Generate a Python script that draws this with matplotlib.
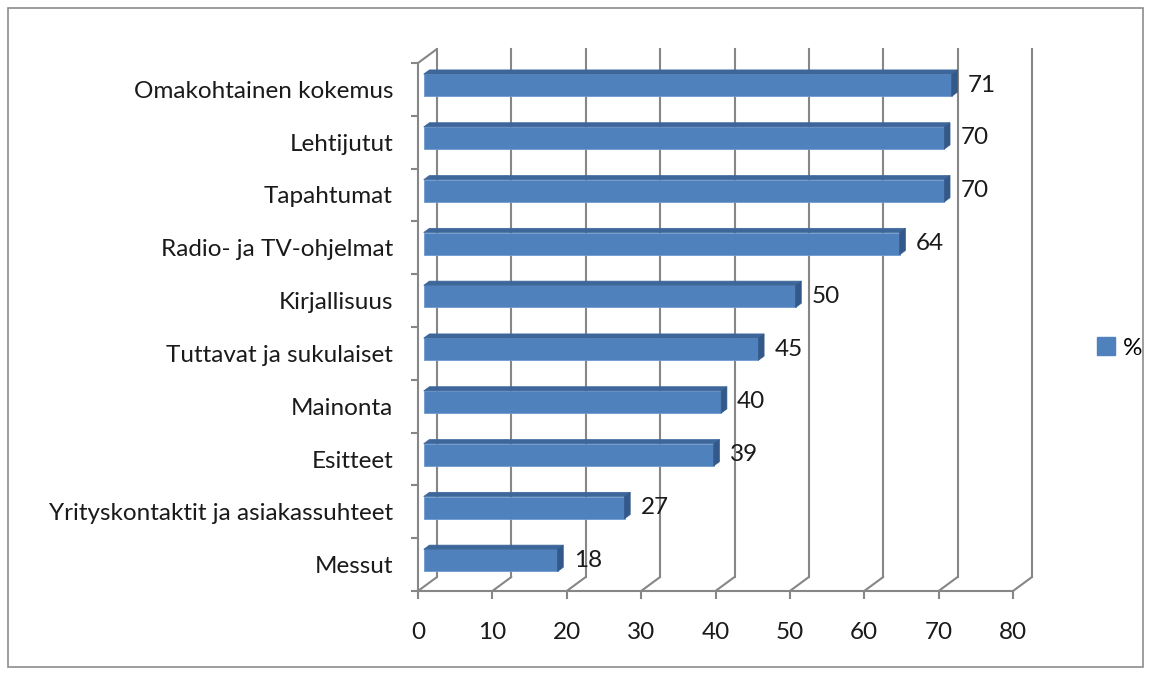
import matplotlib
matplotlib.use('Agg')
import matplotlib.pyplot as plt
from matplotlib.patches import Polygon, Rectangle, Patch, ConnectionPatch
from matplotlib.transforms import ScaledTranslation, IdentityTransform

categories = ["Omakohtainen kokemus", "Lehtijutut", "Tapahtumat",
              "Radio- ja TV-ohjelmat", "Kirjallisuus", "Tuttavat ja sukulaiset",
              "Mainonta", "Esitteet", "Yrityskontaktit ja asiakassuhteet", "Messut"]
values = [71, 70, 70, 64, 50, 45, 40, 39, 27, 18]
xticks = [0, 10, 20, 30, 40, 50, 60, 70, 80]
series_name = "%"

FONT = "Lato"
FS = 17.5
GRID = "#868686"
FRONT = "#4F81BD"
TOP = "#3D679A"
SIDE = "#33598A"
TXT = "#1a1a1a"

W, H = 1152, 675
fig = plt.figure(figsize=(W / 100, H / 100), dpi=100)
fig.patch.set_facecolor("white")
ax = fig.add_axes([418 / W, (H - 591) / H, 595 / W, 528 / H])
n = len(categories)
ax.set_xlim(0, 80)
ax.set_ylim(0, n)
ax.patch.set_visible(False)

DX, DY = 0.19, 0.14  # depth offset in inches


def depth(d):
    return ax.transData + ScaledTranslation(d * DX, d * DY, fig.dpi_scale_trans)


# spines / ticks
for s in ["top", "right"]:
    ax.spines[s].set_visible(False)
for s in ["left", "bottom"]:
    ax.spines[s].set_color(GRID)
    ax.spines[s].set_linewidth(1.5)
ax.set_xticks(xticks)
ax.set_xticklabels([str(t) for t in xticks], fontfamily=FONT, fontsize=FS, color=TXT)
ax.tick_params(axis="x", length=6, width=1.5, color=GRID, pad=16)
centers = [n - i - 0.5 for i in range(n)]
ax.set_yticks(centers)
ax.set_yticklabels(categories, fontfamily=FONT, fontsize=FS, color=TXT)
ax.tick_params(axis="y", which="major", length=0, pad=18)
ax.set_yticks(list(range(n + 1)), minor=True)
ax.tick_params(axis="y", which="minor", length=5, width=1.5, color=GRID)

# back wall gridlines and floor diagonals
back = depth(1.0)
for v in xticks:
    ax.plot([v, v], [0, n], color=GRID, lw=1.5, transform=back, clip_on=False, zorder=1)
    cp = ConnectionPatch(xyA=(v, 0), coordsA=ax.transData, xyB=(v, 0), coordsB=back,
                         color=GRID, lw=1.5, zorder=1)
    ax.add_artist(cp)
cp = ConnectionPatch(xyA=(0, n), coordsA=ax.transData, xyB=(0, n), coordsB=back,
                     color=GRID, lw=1.5, zorder=1)
ax.add_artist(cp)

# bars
d0, d1 = 0.3, 0.6
hb = 0.42
fig.canvas.draw()
Tf, Tb = depth(d0), depth(d1)
for i, (c, v) in enumerate(zip(centers, values)):
    y0, y1 = c - hb / 2, c + hb / 2
    ax.add_patch(Rectangle((0, y0), v, hb, facecolor=FRONT, edgecolor="#6F9AD0",
                           lw=0.6, transform=Tf, clip_on=False, zorder=3))
    top = [Tf.transform((0, y1)), Tf.transform((v, y1)), Tb.transform((v, y1)), Tb.transform((0, y1))]
    ax.add_patch(Polygon(top, closed=True, facecolor=TOP, edgecolor=TOP, lw=0.5,
                         transform=IdentityTransform(), clip_on=False, zorder=3))
    side = [Tf.transform((v, y0)), Tf.transform((v, y1)), Tb.transform((v, y1)), Tb.transform((v, y0))]
    ax.add_patch(Polygon(side, closed=True, facecolor=SIDE, edgecolor=SIDE, lw=0.5,
                         transform=IdentityTransform(), clip_on=False, zorder=3))
    ax.text(v, c, str(v), transform=Tf + ScaledTranslation(0.16, 0, fig.dpi_scale_trans),
            fontfamily=FONT, fontsize=FS, color=TXT, va="center", ha="left", zorder=4)

# legend
fig.legend(handles=[Patch(facecolor=FRONT, edgecolor=FRONT)], labels=[series_name],
           loc="center left", bbox_to_anchor=(1097 / W, 1 - 348 / H), frameon=False,
           borderpad=0, borderaxespad=0,
           handlelength=0.75, handleheight=0.75, handletextpad=0.3,
           prop={"family": FONT, "size": FS})

# outer chart border
fig.add_artist(Rectangle((8 / W, 8 / H), (1143 - 8) / W, (667 - 8) / H, transform=fig.transFigure,
                         fill=False, edgecolor="#8C8C8C", lw=1.2))

fig.savefig("out.png", dpi=100)
